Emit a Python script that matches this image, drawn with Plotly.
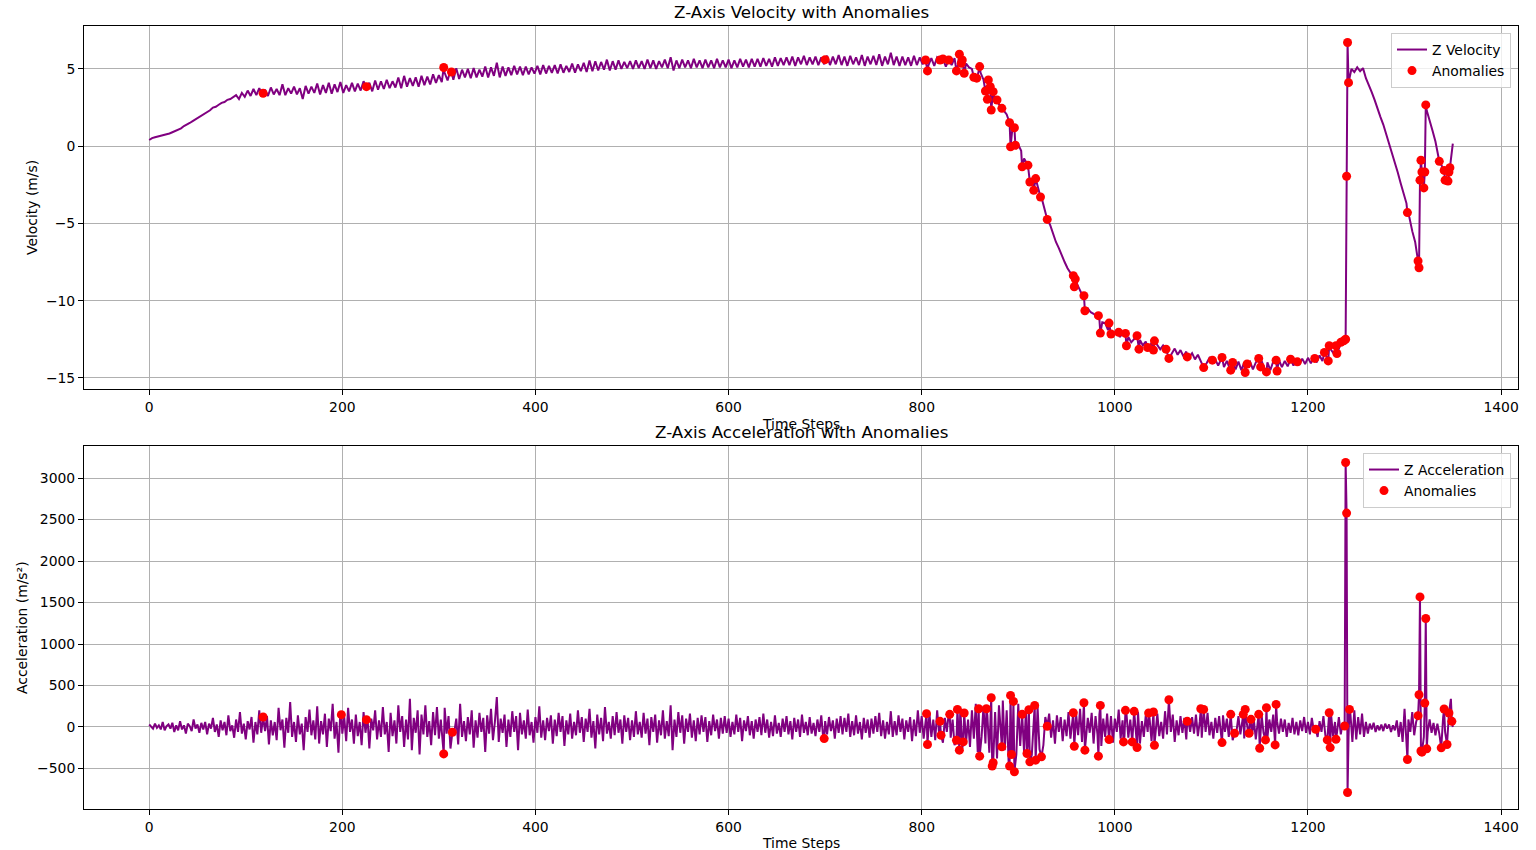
import plotly.graph_objects as go

# Z velocity: one row per 30 time steps, a value every 3 steps
VEL_STEP = 3
VEL_ROWS = [
    [0.40, 0.52, 0.58, 0.62, 0.66, 0.70, 0.74, 0.82, 0.90, 0.98],
    [1.05, 1.15, 1.30, 1.38, 1.50, 1.62, 1.74, 1.85, 1.98, 2.12],
    [2.25, 2.32, 2.50, 2.55, 2.68, 2.80, 2.86, 3.00, 3.05, 3.15],
    [3.30, 3.05, 3.45, 3.20, 3.60, 3.25, 3.70, 3.30, 3.75, 3.35],
    [3.65, 3.25, 3.80, 3.35, 3.70, 3.30, 4.00, 3.30, 3.75, 3.40],
    [3.85, 3.35, 3.75, 3.05, 3.90, 3.40, 3.85, 3.45, 4.05, 3.35],
    [3.95, 3.45, 4.10, 3.40, 4.00, 3.50, 4.15, 3.45, 3.95, 3.55],
    [4.10, 3.55, 4.05, 3.60, 4.20, 3.60, 4.10, 3.55, 4.25, 3.65],
    [4.20, 3.70, 4.30, 3.75, 4.20, 3.80, 4.45, 3.75, 4.55, 3.85],
    [4.40, 3.90, 4.45, 3.85, 4.55, 3.95, 4.50, 4.00, 4.65, 4.10],
    [4.60, 4.15, 4.75, 4.25, 4.90, 4.30, 5.05, 4.35, 4.95, 4.45],
    [5.00, 4.40, 5.05, 4.45, 4.95, 4.50, 5.15, 4.45, 5.10, 4.55],
    [5.40, 4.45, 5.15, 4.55, 5.10, 4.60, 5.20, 4.65, 5.15, 4.60],
    [5.15, 4.65, 5.10, 4.70, 5.20, 4.65, 5.25, 4.70, 5.20, 4.75],
    [5.25, 4.70, 5.30, 4.75, 5.20, 4.80, 5.35, 4.75, 5.30, 4.85],
    [5.40, 4.80, 5.55, 4.85, 5.50, 4.90, 5.45, 4.95, 5.60, 4.90],
    [5.50, 4.95, 5.55, 5.00, 5.45, 5.05, 5.50, 5.00, 5.55, 5.05],
    [5.50, 5.00, 5.60, 5.05, 5.55, 5.00, 5.50, 5.10, 5.60, 5.05],
    [5.75, 4.90, 5.55, 5.05, 5.60, 5.10, 5.55, 5.05, 5.65, 5.10],
    [5.55, 5.05, 5.60, 5.10, 5.55, 5.05, 5.65, 5.10, 5.55, 5.10],
    [5.60, 5.05, 5.55, 5.10, 5.65, 5.15, 5.60, 5.10, 5.65, 5.15],
    [5.65, 5.15, 5.70, 5.20, 5.65, 5.15, 5.75, 5.20, 5.70, 5.25],
    [5.75, 5.25, 5.80, 5.20, 5.75, 5.30, 5.85, 5.25, 5.75, 5.30],
    [5.80, 5.25, 5.75, 5.30, 5.85, 5.25, 5.80, 5.30, 5.90, 5.25],
    [5.80, 5.20, 5.85, 5.30, 5.75, 5.25, 5.90, 5.20, 5.80, 5.30],
    [5.85, 5.25, 5.95, 5.20, 5.80, 5.30, 6.05, 5.25, 5.80, 5.20],
    [5.80, 5.25, 5.75, 5.20, 5.85, 5.25, 5.75, 5.30, 5.80, 5.25],
    [5.70, 5.20, 5.75, 5.25, 5.70, 5.15, 5.75, 5.25, 5.70, 5.05],
    [5.45, 5.20, 5.35, 5.10, 5.00, 4.70, 4.60, 4.75, 4.30, 3.90],
    [3.50, 3.20, 3.00, 2.80, 2.55, 2.30, 2.05, 1.50, 1.20, 0.70],
    [0.10, -0.30, -0.80, -1.20, -1.60, -2.10, -2.30, -2.80, -3.30, -4.00],
    [-4.70, -5.10, -5.70, -6.20, -6.60, -7.10, -7.50, -7.90, -8.20, -8.50],
    [-8.80, -9.20, -9.60, -10.10, -10.50, -10.75, -10.85, -11.00, -11.20, -11.40],
    [-11.45, -11.90, -11.65, -12.15, -11.90, -12.35, -12.15, -12.55, -12.35, -12.70],
    [-12.45, -12.80, -12.55, -12.90, -12.65, -13.05, -12.75, -13.15, -12.85, -13.15],
    [-12.90, -13.30, -13.00, -13.40, -13.10, -13.50, -13.20, -13.60, -13.30, -13.65],
    [-13.40, -13.80, -13.50, -13.90, -13.55, -14.05, -13.70, -14.15, -13.80, -14.20],
    [-13.85, -14.30, -13.90, -14.40, -13.95, -14.45, -13.95, -14.50, -14.00, -14.40],
    [-13.95, -14.45, -14.00, -14.40, -13.90, -14.45, -14.00, -14.50, -13.95, -14.35],
    [-13.85, -14.30, -13.90, -14.25, -13.80, -14.20, -13.75, -14.15, -13.75, -14.10],
    [-13.70, -14.05, -13.65, -14.00, -13.55, -13.90, -13.45, -13.75, -13.20, -13.45],
    [-13.10, -12.95, -12.80, -12.50, 4.11, 5.00, 4.80, 5.10, 4.85, 5.05],
    [4.40, 4.00, 3.50, 3.00, 2.40, 1.90, 1.40, 0.80, 0.10, -0.50],
    [-1.10, -1.70, -2.40, -3.10, -3.70, -4.60, -5.50, -6.20, -7.00, -0.91],
    [-2.70, 2.30, 1.70, 1.00, 0.30, -0.50, -1.20, -1.57, -2.10, -1.39],
]
VEL_END = 0.17

# Z acceleration: one row per 30 time steps, a value every 2 steps
ACC_STEP = 2
ACC_ROWS = [
    [30, 10, -20, 40, -10, 20, -30, 60, -40, 10, 30, -20, 50, -60, 20],
    [-40, 70, -30, 20, -80, 40, 10, -50, 90, -20, 30, -70, 50, -30, 60],
    [-90, 40, -20, 110, -60, 30, -120, 80, -40, 60, -100, 140, -50, 20, -130],
    [90, -60, 180, -80, 40, -150, 70, -30, 120, -190, 60, -90, 200, -70, 100],
    [-50, 130, -210, 80, -100, 60, -160, 230, -40, 90, -250, 110, -70, 300, -120],
    [60, -180, 140, -90, 40, -280, 120, -60, 210, -100, 80, -150, 250, -200, 70],
    [-90, 160, -240, 100, -50, 280, -140, 60, -310, 190, -80, 120, -170, 230, -60],
    [90, -200, 150, -110, 60, -220, 180, -70, 130, -260, 100, -40, 200, -150, 80],
    [-120, 240, -90, 60, -300, 170, -110, 80, -200, 260, -60, 130, -240, 90, -150],
    [340, -280, 110, -70, 200, -330, 150, -90, 260, -120, 70, -220, 180, -100, 240],
    [-140, 90, -190, 230, -80, 130, -260, 160, -60, 100, -210, 280, -120, 70, -170],
    [120, -90, 200, -250, 80, -130, 170, -60, 110, -300, 140, -80, 220, -160, 60],
    [360, -180, 100, -70, 150, -240, 90, -120, 190, -60, 130, -280, 170, -90, 80],
    [-140, 210, -100, 60, -190, 120, -70, 250, -130, 80, -160, 110, -50, 140, -200],
    [90, -110, 170, -60, 130, -230, 80, -90, 160, -140, 60, -100, 200, -70, 120],
    [-180, 100, -60, 220, -130, 70, -260, 150, -90, 110, -170, 240, -80, 60, -140],
    [130, -100, 180, -70, 90, -200, 140, -60, 110, -160, 80, -120, 190, -90, 60],
    [-130, 170, -80, 100, -220, 120, -60, 150, -190, 80, -100, 200, -140, 70, -110],
    [260, -280, 90, -120, 180, -70, 140, -200, 100, -60, 160, -130, 80, -170, 110],
    [-90, 140, -60, 120, -180, 70, -100, 150, -50, 90, -140, 110, -80, 130, -70],
    [100, -120, 60, -90, 150, -60, 110, -170, 80, -50, 130, -100, 70, -140, 90],
    [-60, 120, -100, 160, -70, 90, -130, 60, -110, 140, -80, 50, -120, 100, -60],
    [130, -90, 70, -150, 110, -60, 90, -120, 150, -70, 60, -100, 120, -80, 50],
    [-110, 90, -60, 140, -130, 70, -90, 120, -50, 80, -140, 100, -70, 130, -90],
    [110, -60, 160, -120, 70, -100, 140, -80, 60, -150, 110, -70, 90, -130, 100],
    [-80, 130, -60, 170, -110, 80, -140, 60, -90, 190, -120, 70, -100, 140, -60],
    [100, -150, 80, -60, 120, -170, 90, -110, 200, -70, 130, -140, 60, -100, 170],
    [-120, 90, -160, 200, -80, 140, -190, 110, -60, 170, -130, 90, -220, 160, -100],
    [230, -260, 120, -180, 90, -240, 200, -140, 280, -300, 160, -120, 250, -200, 140],
    [-310, 300, -250, 180, -380, 260, -150, 320, -280, 200, -420, 340, -260, 150, -330],
    [280, -230, 160, -300, 220, -180, 250, -340, 190, -130, 240, -270, 150, -220, 120],
    [-90, 160, -130, 80, -200, 140, -60, 120, -170, 90, -110, 180, -140, 70, -120],
    [150, -100, 220, -180, 90, -140, 110, -70, 170, -200, 130, -90, 150, -230, 100],
    [-120, 160, -80, 130, -190, 100, -60, 210, -140, 80, -110, 170, -130, 90, -150],
    [120, -90, 180, -200, 70, -120, 140, -60, 100, -170, 130, -80, 160, -110, 60],
    [-140, 190, -90, 120, -60, 150, -180, 80, -100, 130, -70, 110, -150, 90, -60],
    [120, -80, 150, -110, 70, -130, 90, -60, 170, -100, 60, -140, 110, -70, 130],
    [-90, 140, -60, 100, -120, 80, -160, 110, -50, 130, -90, 70, -140, 100, -60],
    [120, -100, 80, -150, 60, -90, 140, -70, 110, -130, 90, -60, 150, -110, 70],
    [-80, 100, -60, 90, -120, 50, -70, 110, -90, 60, -100, 80, -50, 120, -70],
    [60, -90, 110, -40, 80, -120, 70, -60, 130, -100, 50, -80, 140, -110, 60],
    [-70, 120, -90, 50, 12, 2578, -120, 150, -180, 200, -150, 120, -90, 160, -120],
    [60, -80, 40, -30, 50, -60, 20, -40, 30, -50, 40, -20, 30, -60, 20],
    [-40, 80, -120, 60, -180, 220, -150, 90, -60, 180, -100, 60, 136, 1568, -304],
    [-120, 1308, -60, 90, -70, 50, -100, 40, -80, -252, 120, -60, -212, 168, 340],
]
ACC_END = 0

VEL_ANOM_STEPS = [118, 225, 305, 313, 700,
                  804, 806, 819, 822, 828, 836, 839, 841, 842, 844,
                  854, 857, 860, 866, 868, 869, 871, 872, 874, 878, 883,
                  891, 892, 896, 897, 904, 910, 912, 916, 918, 923, 930,
                  957, 958, 959, 968, 969,
                  983, 985, 994, 996, 1004, 1011, 1012, 1023, 1025, 1034,
                  1040, 1041, 1053, 1056, 1075, 1092, 1101, 1111, 1120, 1122,
                  1135, 1137, 1149, 1151, 1157, 1167, 1168, 1182, 1189, 1207,
                  1217, 1221, 1222, 1229, 1230, 1234, 1237, 1239,
                  1240, 1241, 1242, 1303,
                  1314, 1315, 1316, 1317, 1318, 1320, 1321, 1322,
                  1336, 1341, 1342, 1345, 1346, 1347]
VEL_ANOM_VALUES = [3.42, 3.85, 5.09, 4.80, 5.60,
                   5.58, 4.87, 5.58, 5.65, 5.58, 4.87, 5.95, 5.37, 5.58, 4.72,
                   4.46, 4.40, 5.15, 3.57, 3.03, 4.29, 3.85, 2.34, 3.53, 2.99, 2.45,
                   1.52, -0.04, 1.19, 0.06, -1.34, -1.23, -2.32, -2.86, -2.10, -3.29, -4.74,
                   -8.38, -9.10, -8.60, -9.68, -10.65,
                   -10.97, -12.10, -11.45, -12.16, -12.05, -12.12, -12.92, -12.27, -13.14, -13.03,
                   -13.20, -12.60, -13.14, -13.74, -13.64, -14.33, -13.85, -13.68, -14.50, -14.00,
                   -14.65, -14.10, -13.74, -14.29, -14.61, -13.85, -14.55, -13.79, -13.96, -13.74,
                   -13.35, -13.90, -12.92, -12.92, -13.42, -12.70, -12.60, -12.50,
                   -1.95, 6.71, 4.11, -4.30,
                   -7.43, -7.87, -2.20, -0.91, -1.67, -2.70, -1.67, 2.67,
                   -0.98, -1.57, -2.20, -2.26, -1.67, -1.39]

ACC_ANOM_STEPS = [118, 199, 225, 305, 314, 699,
                  805, 806, 819, 820, 829, 836, 837, 839, 843, 844,
                  859, 860, 867, 872, 873, 874, 883, 891, 892, 893,
                  895, 896, 904, 909, 911, 912, 917, 918, 924, 930,
                  957, 958, 968, 969, 983, 985, 994,
                  1009, 1011, 1018, 1020, 1023, 1035, 1040, 1041, 1056, 1075,
                  1089, 1092, 1111, 1120, 1124, 1133, 1135, 1139, 1141, 1149,
                  1150, 1156, 1157, 1166, 1167,
                  1208, 1220, 1222, 1223, 1229, 1238,
                  1239, 1240, 1241, 1243, 1303,
                  1314, 1315, 1316, 1317, 1318, 1321, 1322, 1323,
                  1338, 1341, 1344, 1346, 1349]
ACC_ANOM_VALUES = [120, 148, 88, -325, -64, -140,
                   160, -212, 68, -100, 152, -160, 212, -280, -180, 168,
                   220, -352, 220, 352, -472, -432, -240, -472, 380, -332,
                   308, -540, 152, -320, 208, -420, 260, -400, -360, 8,
                   172, -232, 292, -280, -352, 260, -152,
                   -180, 200, -180, 188, -248, 168, 180, -220, 328, 68,
                   220, 212, -188, 152, -76, 152, 212, -76, 92, 152,
                   -257, -156, 232, -216, 272,
                   -28, -156, 172, -249, -148, 12,
                   3188, 2578, -790, 212, -392,
                   136, 388, 1568, -290, -304, 288, 1308, -264,
                   -252, 216, -212, 168, 68]


def merge(rows, step, end_val, anom_steps, anom_vals):
    # the anomalies are points of the same series, so they go into the line as well
    pts = {}
    for r, row in enumerate(rows):
        for j, v in enumerate(row):
            pts[r * 30 + j * step] = v
    pts[1350] = end_val
    pts.update(zip(anom_steps, anom_vals))
    xs = sorted(pts)
    return xs, [pts[x] for x in xs]


def padded(vals):
    lo, hi = min(vals), max(vals)
    m = (hi - lo) * 0.05
    return [lo - m, hi + m]


vel_x, vel_y = merge(VEL_ROWS, VEL_STEP, VEL_END, VEL_ANOM_STEPS, VEL_ANOM_VALUES)
acc_x, acc_y = merge(ACC_ROWS, ACC_STEP, ACC_END, ACC_ANOM_STEPS, ACC_ANOM_VALUES)

W, H = 1536, 850
FONT = 'DejaVu Sans'
x_dom = [84 / W, 1518 / W]
top_dom = [1 - 389 / H, 1 - 26 / H]
bot_dom = [1 - 809 / H, 1 - 446 / H]

fig = go.Figure()
fig.add_trace(go.Scatter(x=vel_x, y=vel_y, mode='lines', name='Z Velocity',
                         line=dict(color='purple', width=2), xaxis='x', yaxis='y', legend='legend'))
fig.add_trace(go.Scatter(x=VEL_ANOM_STEPS, y=VEL_ANOM_VALUES, mode='markers', name='Anomalies',
                         marker=dict(color='red', size=9), xaxis='x', yaxis='y', legend='legend'))
fig.add_trace(go.Scatter(x=acc_x, y=acc_y, mode='lines', name='Z Acceleration',
                         line=dict(color='purple', width=2), xaxis='x2', yaxis='y2', legend='legend2'))
fig.add_trace(go.Scatter(x=ACC_ANOM_STEPS, y=ACC_ANOM_VALUES, mode='markers', name='Anomalies',
                         marker=dict(color='red', size=9), xaxis='x2', yaxis='y2', legend='legend2'))

axis_style = dict(showline=True, mirror=True, linecolor='black', linewidth=1,
                  ticks='outside', ticklen=5, tickcolor='black', tickwidth=1,
                  showgrid=True, gridcolor='#b0b0b0', gridwidth=0.8, zeroline=False,
                  tickfont=dict(family=FONT, size=13.9, color='black'))
x_range = [0 - 1350 * 0.05, 1350 * 1.05]

legend_style = dict(font=dict(family=FONT, size=13.9, color='black'), bgcolor='rgba(255,255,255,0.8)',
                    bordercolor='#cccccc', borderwidth=1, xanchor='right', yanchor='top',
                    x=1511 / W, tracegroupgap=2)

annotations = [
    dict(text='Z-Axis Velocity with Anomalies', x=801 / W, y=1 - 12 / H, font=dict(size=16.7)),
    dict(text='Z-Axis Acceleration with Anomalies', x=801 / W, y=1 - 432 / H, font=dict(size=16.7)),
    dict(text='Time Steps', x=801 / W, y=1 - 424 / H, font=dict(size=13.9)),
    dict(text='Time Steps', x=801 / W, y=1 - 843 / H, font=dict(size=13.9)),
    dict(text='Velocity (m/s)', x=32 / W, y=1 - 208 / H, textangle=-90, font=dict(size=13.9)),
    dict(text='Acceleration (m/s²)', x=22 / W, y=1 - 628 / H, textangle=-90, font=dict(size=13.9)),
]
for a in annotations:
    a.update(xref='paper', yref='paper', showarrow=False, xanchor='center', yanchor='middle')
    a['font'].update(family=FONT, color='black')

fig.update_layout(
    width=W, height=H,
    margin=dict(l=0, r=0, t=0, b=0),
    paper_bgcolor='white', plot_bgcolor='white',
    font=dict(family=FONT, color='black'),
    xaxis=dict(domain=x_dom, anchor='y', range=x_range, tick0=0, dtick=200, **axis_style),
    yaxis=dict(domain=top_dom, anchor='x', range=padded(vel_y), tick0=0, dtick=5, **axis_style),
    xaxis2=dict(domain=x_dom, anchor='y2', range=x_range, tick0=0, dtick=200, **axis_style),
    yaxis2=dict(domain=bot_dom, anchor='x2', range=padded(acc_y), tick0=0, dtick=500, **axis_style),
    legend=dict(y=1 - 33 / H, **legend_style),
    legend2=dict(y=1 - 453 / H, **legend_style),
    annotations=annotations,
)

# the page's default body margin would push the figure 8px down and right
fig.write_html("out.html", config={'displayModeBar': False},
               post_script="document.body.style.margin = '0px';")
